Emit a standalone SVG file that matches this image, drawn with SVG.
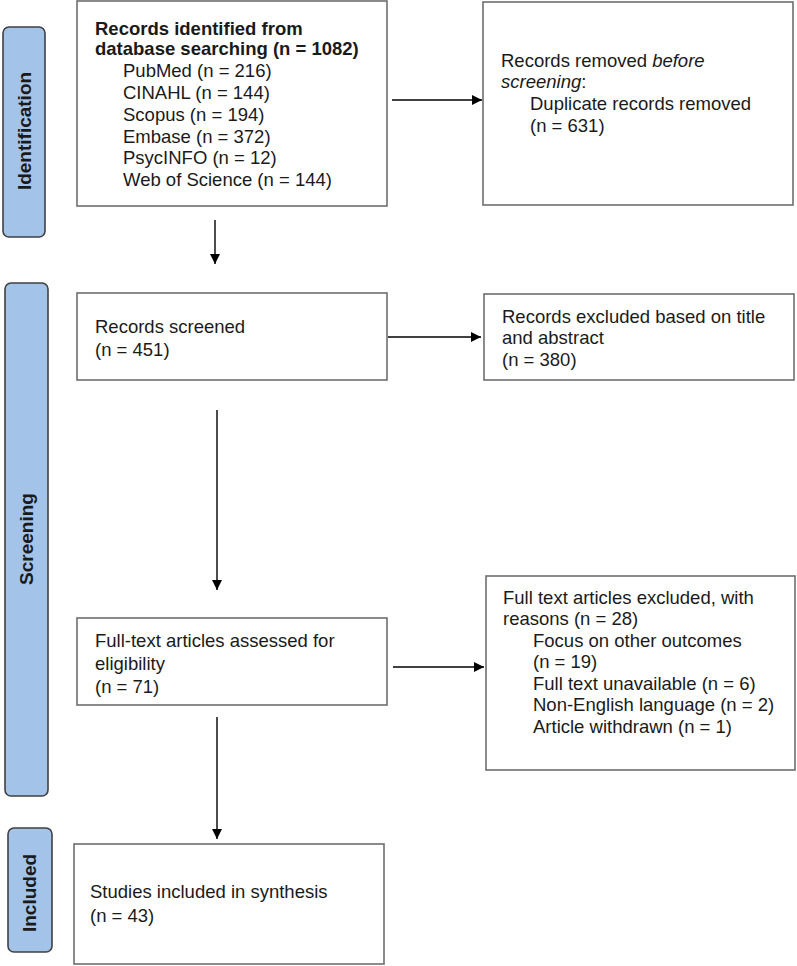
<svg xmlns="http://www.w3.org/2000/svg" width="797" height="966" viewBox="0 0 797 966">
<style>
text{font-family:"Liberation Sans",Arial,sans-serif;font-size:18.5px;fill:#1a1a1a}
.b{font-weight:bold}
.side rect{fill:#a3c4e8;stroke:#404040;stroke-width:1.6}
.side text{font-weight:bold;font-size:19px;text-anchor:middle}
.box rect{fill:#fff;stroke:#6e6e6e;stroke-width:1.6}
#connectors line{stroke:#000;stroke-width:1.4}
</style>
<defs>
<marker id="ah" viewBox="0 0 10 10" refX="10" refY="5" markerWidth="10" markerHeight="10" markerUnits="userSpaceOnUse" orient="auto">
<path d="M0,0 L10,5 L0,10 z" fill="#000"/>
</marker>
</defs>
<g id="phase-identification" class="side"><rect x="3" y="27" width="42" height="210" rx="6"/><text transform="translate(31,131) rotate(-90)">Identification</text></g>
<g id="phase-screening" class="side"><rect x="5" y="283" width="43" height="513" rx="6"/><text transform="translate(33,539) rotate(-90)">Screening</text></g>
<g id="phase-included" class="side"><rect x="8" y="828" width="44" height="124" rx="6"/><text transform="translate(36,893) rotate(-90)">Included</text></g>

<g id="n-identified" class="box"><rect x="77" y="1" width="310" height="205"/>
<text class="b" x="95" y="35">Records identified from</text>
<text class="b" x="95" y="55">database searching (n = 1082)</text>
<text x="123" y="77">PubMed (n = 216)</text>
<text x="123" y="99">CINAHL (n = 144)</text>
<text x="123" y="121">Scopus (n = 194)</text>
<text x="123" y="143">Embase (n = 372)</text>
<text x="123" y="164">PsycINFO (n = 12)</text>
<text x="123" y="186">Web of Science (n = 144)</text></g>

<g id="n-removed" class="box"><rect x="483" y="2" width="310" height="203"/>
<text x="501" y="67">Records removed <tspan font-style="italic">before</tspan></text>
<text x="501" y="88"><tspan font-style="italic">screening</tspan>:</text>
<text x="530" y="110">Duplicate records removed</text>
<text x="530" y="132">(n = 631)</text></g>

<g id="n-screened" class="box"><rect x="77" y="293" width="310" height="87"/>
<text x="95" y="333">Records screened</text>
<text x="95" y="356">(n = 451)</text></g>

<g id="n-excluded-ta" class="box"><rect x="484" y="294" width="310" height="86"/>
<text x="502" y="323">Records excluded based on title</text>
<text x="502" y="344">and abstract</text>
<text x="502" y="366">(n = 380)</text></g>

<g id="n-fulltext" class="box"><rect x="77" y="618" width="310" height="87"/>
<text x="95" y="647">Full-text articles assessed for</text>
<text x="95" y="670">eligibility</text>
<text x="95" y="693">(n = 71)</text></g>

<g id="n-excluded-ft" class="box"><rect x="486" y="576" width="309" height="194"/>
<text x="503" y="604">Full text articles excluded, with</text>
<text x="503" y="625">reasons (n = 28)</text>
<text x="533" y="647">Focus on other outcomes</text>
<text x="533" y="668">(n = 19)</text>
<text x="533" y="690">Full text unavailable (n = 6)</text>
<text x="533" y="711">Non-English language (n = 2)</text>
<text x="533" y="733">Article withdrawn (n = 1)</text></g>

<g id="n-included" class="box"><rect x="74" y="844" width="310" height="120"/>
<text x="90" y="898">Studies included in synthesis</text>
<text x="90" y="922">(n = 43)</text></g>

<g id="connectors">
<line x1="392" y1="100" x2="482" y2="100" marker-end="url(#ah)"/>
<line x1="215" y1="220" x2="215" y2="264" marker-end="url(#ah)"/>
<line x1="388" y1="337" x2="481" y2="337" marker-end="url(#ah)"/>
<line x1="217" y1="410" x2="217" y2="590" marker-end="url(#ah)"/>
<line x1="393" y1="667" x2="484" y2="667" marker-end="url(#ah)"/>
<line x1="217" y1="717" x2="217" y2="839" marker-end="url(#ah)"/>
</g>
</svg>
